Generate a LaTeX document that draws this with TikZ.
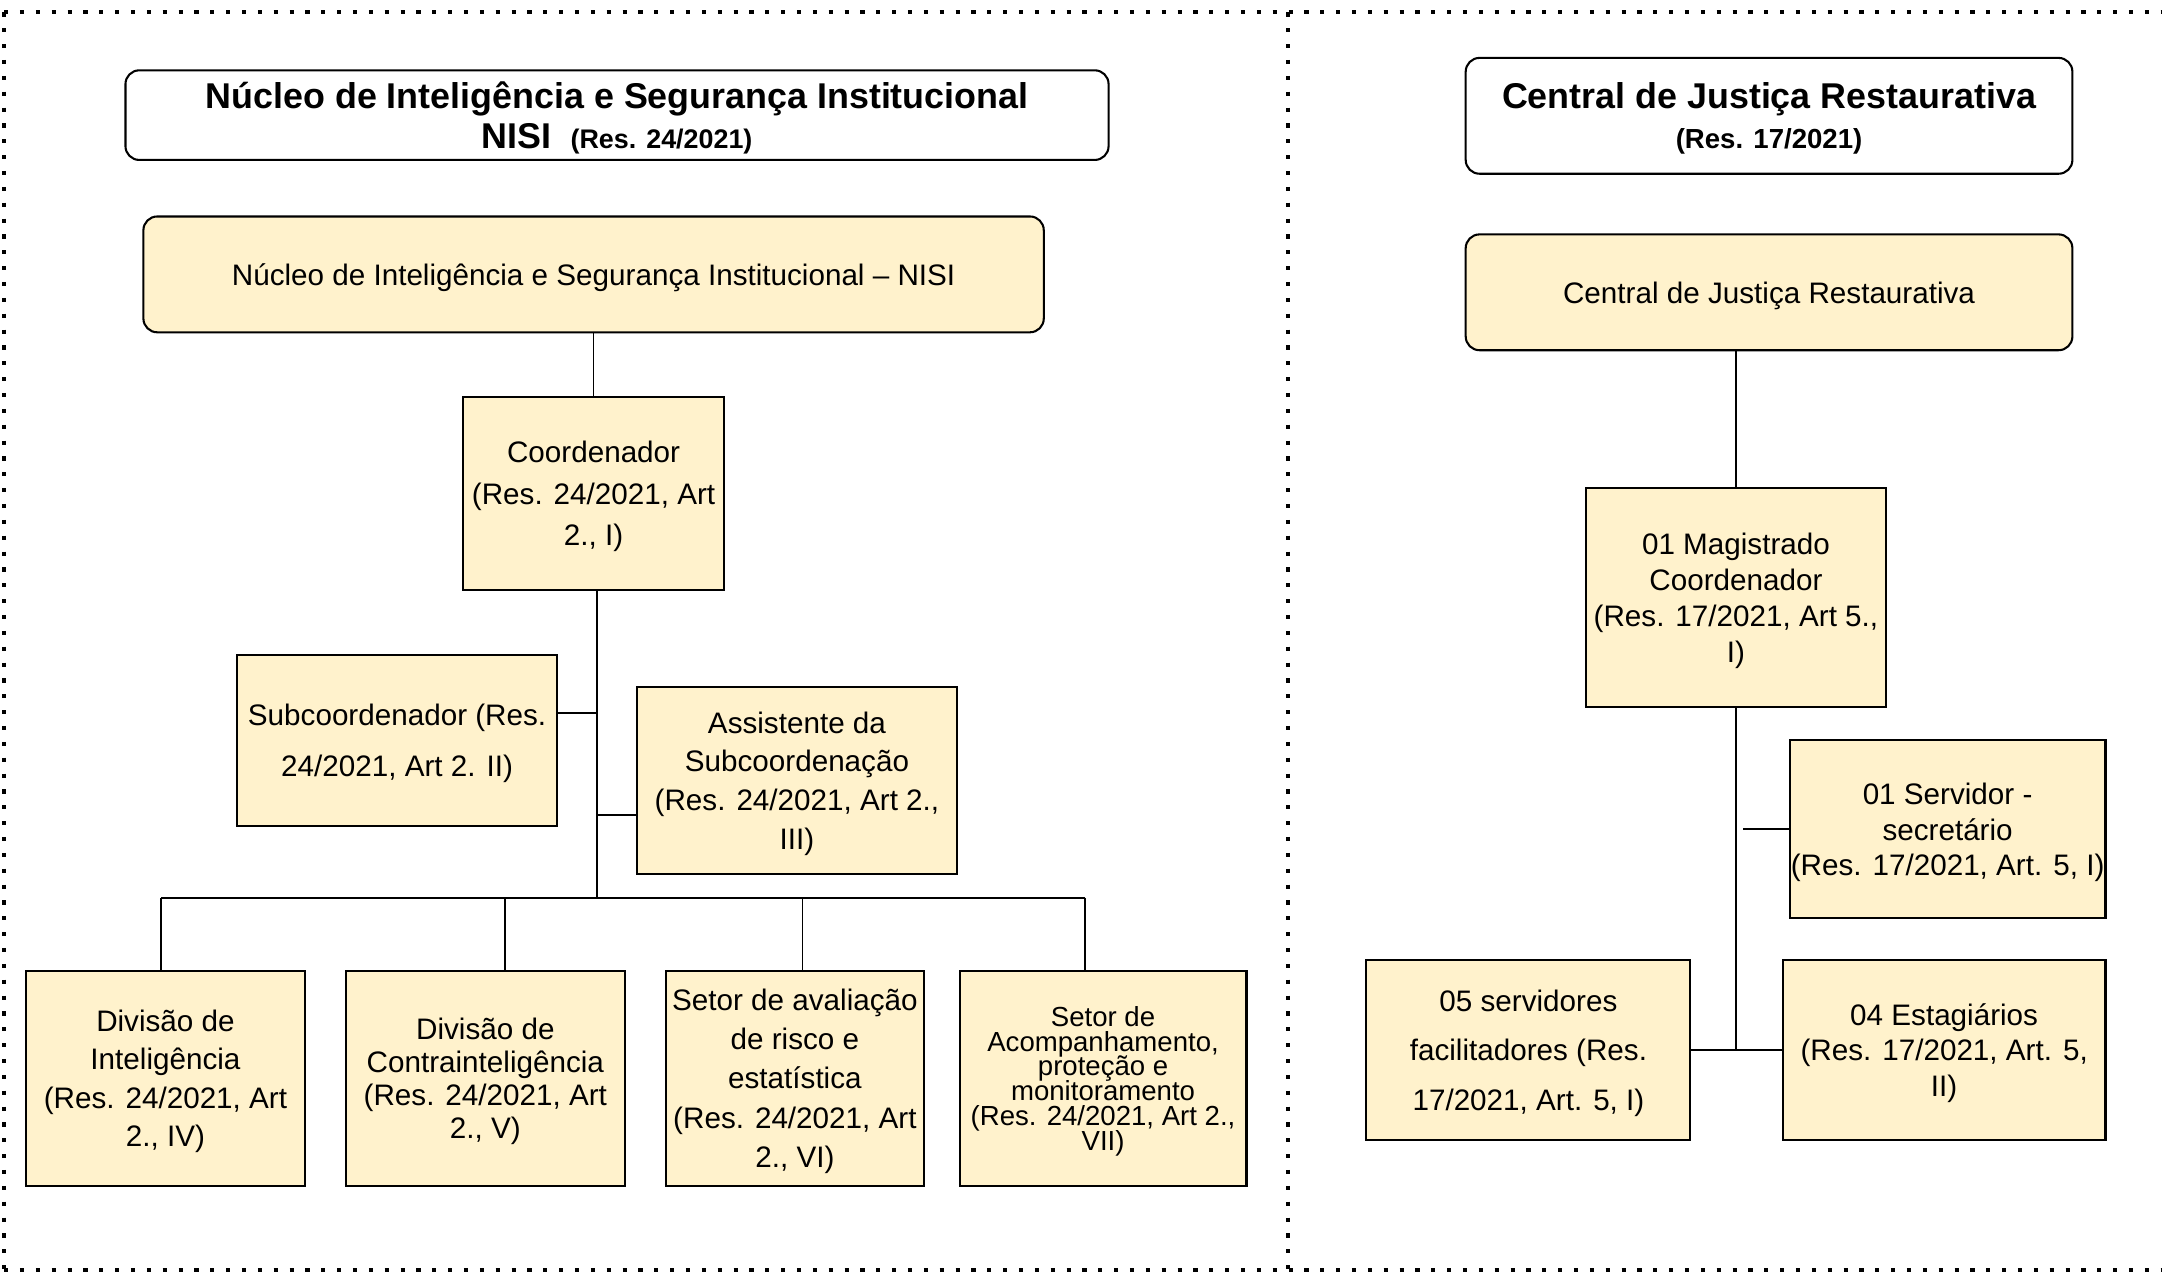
\documentclass[tikz,border=0pt]{standalone}
\usepackage{fontspec}
\setmainfont{Liberation Sans}
\definecolor{boxfill}{HTML}{FFF2CC}
\newcommand\myfs[2]{\fontsize{#1}{#2}\selectfont\lineskiplimit=-100pt\lineskip=0pt}
\begin{document}
\begin{tikzpicture}[x=1pt,y=-1pt,
  box/.style={draw=black, line width=1.5pt, fill=boxfill, inner sep=0pt, align=center, text depth=-3pt},
  rbox/.style={box, rounded corners=10pt},
  tbox/.style={draw=black, line width=1.5pt, fill=white, rounded corners=10pt, inner sep=0pt, align=center, text depth=-3pt},
  conn/.style={line width=1.3pt},
  frame/.style={line width=3pt, dash pattern=on 3pt off 8.5pt},
  body/.style={font=\myfs{21.5}{#1}},
]
\useasboundingbox (0,0) rectangle (1568,925);
% frames
\draw[frame] (3,9) -- (1570,9);
\draw[frame] (3,921) -- (1570,921);
\draw[frame] (3,9) -- (3,921);
\draw[frame] (934,9) -- (934,921);

% ---------- left panel ----------
\node[tbox, minimum width=713pt, minimum height=65pt, font=\myfs{26}{29}\bfseries] (t1) at (447.5,83.5)
  {Núcleo de Inteligência e Segurança Institucional\\NISI\hspace{14pt}{\fontsize{19.5}{29}\selectfont(Res. 24/2021)}};
\node[rbox, minimum width=653pt, minimum height=84pt, body=26] (n1) at (430.5,199)
  {Núcleo de Inteligência e Segurança Institucional – NISI};
\node[box, minimum width=189pt, minimum height=140pt, body=30] (coord) at (430.5,358)
  {Coordenador\\(Res. 24/2021, Art\\2., I)};
\node[box, minimum width=232pt, minimum height=124pt, body=37] (sub) at (288,537)
  {Subcoordenador (Res.\\24/2021, Art 2. II)};
\node[box, minimum width=232pt, minimum height=136pt, body=28] (asst) at (578,566)
  {Assistente da\\Subcoordenação\\(Res. 24/2021, Art 2.,\\III)};
\node[box, minimum width=202pt, minimum height=156pt, body=28] (d1) at (120,782)
  {Divisão de\\Inteligência\\(Res. 24/2021, Art\\2., IV)};
\node[box, minimum width=202pt, minimum height=156pt, body=24] (d2) at (352,782)
  {Divisão de\\Contrainteligência\\(Res. 24/2021, Art\\2., V)};
\node[box, minimum width=187pt, minimum height=156pt, body=28.5] (d3) at (576.5,782)
  {Setor de avaliação\\de risco e\\estatística\\(Res. 24/2021, Art\\2., VI)};
\node[box, minimum width=208pt, minimum height=156pt, font=\myfs{20}{18}] (d4) at (800,782)
  {Setor de\\Acompanhamento,\\proteção e\\monitoramento\\(Res. 24/2021, Art 2.,\\VII)};

\coordinate (b1) at (117,651);
\coordinate (b2) at (366,651);
\coordinate (b3) at (582,651);
\coordinate (b4) at (787,651);
\coordinate (tk) at ([xshift=2.5pt]coord.south);

\draw[conn] (n1.south) -- (coord.north);
\draw[conn] (tk) -- (tk |- b1);
\draw[conn] ([yshift=20pt]sub.east) -- ([yshift=20pt]sub.east -| tk);
\draw[conn] ([yshift=-25pt]asst.west) -- ([yshift=-25pt]asst.west -| tk);
\draw[conn] (b1) -- (b4);
\draw[conn] (b1) -- (b1 |- d1.north);
\draw[conn] (b2) -- (b2 |- d2.north);
\draw[conn] (b3) -- (b3 |- d3.north);
\draw[conn] (b4) -- (b4 |- d4.north);

% ---------- right panel ----------
\node[tbox, minimum width=440pt, minimum height=84pt, font=\myfs{26}{29}\bfseries] (t2) at (1283,84)
  {Central de Justiça Restaurativa\\{\fontsize{20}{29}\selectfont(Res. 17/2021)}};
\node[rbox, minimum width=440pt, minimum height=84pt, body=26] (c1) at (1283,212)
  {Central de Justiça Restaurativa};
\node[box, minimum width=218pt, minimum height=159pt, body=26] (mag) at (1259,433.5)
  {01 Magistrado\\Coordenador\\(Res. 17/2021, Art 5.,\\I)};
\node[box, minimum width=229pt, minimum height=129pt, body=26] (srv) at (1412.5,601.5)
  {01 Servidor -\\secretário\\(Res. 17/2021, Art. 5, I)};
\node[box, minimum width=235pt, minimum height=131pt, body=36] (fac) at (1108.5,761.5)
  {05 servidores\\facilitadores (Res.\\17/2021, Art. 5, I)};
\node[box, minimum width=234pt, minimum height=131pt, body=26] (est) at (1410,761.5)
  {04 Estagiários\\(Res. 17/2021, Art. 5,\\II)};

\draw[conn] (c1.south -| mag.north) -- (mag.north);
\draw[conn] (mag.south) -- (mag.south |- fac.east);
\draw[conn] ([xshift=-33pt]srv.west) -- (srv.west);
\draw[conn] (fac.east) -- (est.west);
\end{tikzpicture}
\end{document}
